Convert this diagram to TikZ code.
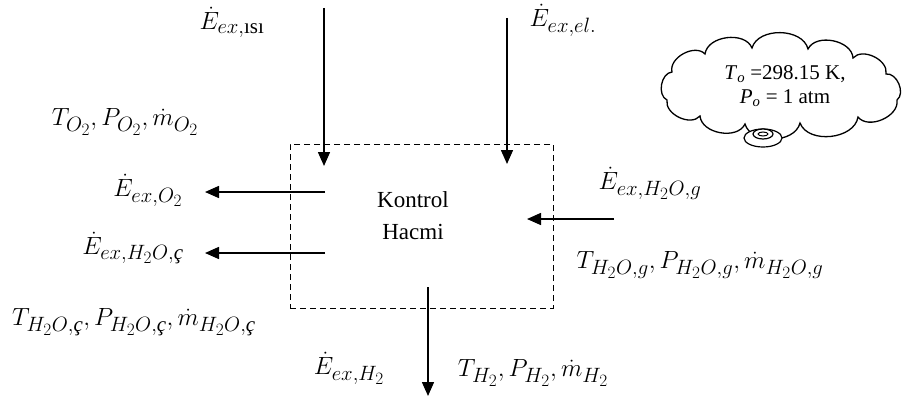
\documentclass[tikz,border=0pt]{standalone}
\usepackage{amsmath}
\usepackage{fontspec}
\setmainfont{Liberation Serif}
\DeclareMathSizes{28}{28}{21}{16}
\usetikzlibrary{arrows.meta}
\begin{document}
\begin{tikzpicture}[x=1pt,y=-1pt,
  flow/.style={line width=1.5pt,-{Triangle[length=14pt,width=12pt]}},
  mlbl/.style={inner sep=0pt,font=\fontsize{28}{32}\selectfont},
  cvbox/.style={draw,dashed,line width=1pt,dash pattern=on 6pt off 4pt},
  bub/.style={draw,line width=1.2pt,fill=white},
  puff/.style={bend left=75}]
\useasboundingbox (0,0) rectangle (912,396);
% control volume
\node[cvbox,minimum width=263pt,minimum height=164pt,inner sep=0pt] (cv) at (421.5,226) {};
\node[align=center,font=\fontsize{23}{32}\selectfont,inner sep=0pt] (cvt) at (413,216) {Kontrol\\Hacmi};
% arrows
\coordinate (qs) at (324,8);   \coordinate (qe) at (324,166);
\coordinate (ws) at (507,18);  \coordinate (we) at (507,164);
\coordinate (o2s) at (325,192); \coordinate (o2e) at (205,192);
\coordinate (wcs) at (325,253); \coordinate (wce) at (205,253);
\coordinate (wgs) at (614,219); \coordinate (wge) at (527,219);
\coordinate (h2s) at (428,287); \coordinate (h2e) at (428,396);
\draw[flow] (qs) -- (qe);
\draw[flow] (ws) -- (we);
\draw[flow] (o2s) -- (o2e);
\draw[flow] (wcs) -- (wce);
\draw[flow] (wgs) -- (wge);
\draw[flow] (h2s) -- (h2e);
% labels
\node[mlbl] (lq) at (232,22) {$\dot{E}_{ex,\text{ısı}}$};
\node[mlbl] (lw) at (563,20) {$\dot{E}_{ex,el.}$};
\node[mlbl] (lo2p) at (125,122) {$T_{O_2}, P_{O_2}, \dot{m}_{O_2}$};
\node[mlbl] (lo2) at (148,190) {$\dot{E}_{ex,O_2}$};
\node[mlbl] (lwc) at (133,248) {$\dot{E}_{ex,H_2O,\text{\itshape ç}}$};
\node[mlbl] (lwcp) at (134,322) {$T_{H_2O,\text{\itshape ç}}, P_{H_2O,\text{\itshape ç}}, \dot{m}_{H_2O,\text{\itshape ç}}$};
\node[mlbl] (lwg) at (650,183) {$\dot{E}_{ex,H_2O,g}$};
\node[mlbl] (lwgp) at (700,265) {$T_{H_2O,g}, P_{H_2O,g}, \dot{m}_{H_2O,g}$};
\node[mlbl] (lh2) at (349,368) {$\dot{E}_{ex,H_2}$};
\node[mlbl] (lh2p) at (533,373) {$T_{H_2}, P_{H_2}, \dot{m}_{H_2}$};
% cloud
\draw[line width=1.3pt,fill=white] (667,100) to[puff] (672,72) to[puff] (705,54) to[puff] (752,48)
  to[puff] (808,49) to[puff] (853,58) to[puff] (886,74) to[puff] (897,100)
  to[puff] (858,117) to[puff] (800,123) to[puff] (745,124) to[puff] (700,116) to[puff] cycle;
\node[align=center,font=\fontsize{21}{24}\selectfont,inner sep=0pt] (envt) at (785,86) {\textit{T}\textsubscript{\textit{o}} =298.15 K,\\\textit{P}\textsubscript{\textit{o}} = 1 atm};
\draw[bub] (763,138) ellipse [x radius=19pt,y radius=9pt];
\draw[bub] (763,134) ellipse [x radius=10pt,y radius=5pt];
\draw[line width=1pt] (763,134) ellipse [x radius=5pt,y radius=2pt];
\end{tikzpicture}
\end{document}
